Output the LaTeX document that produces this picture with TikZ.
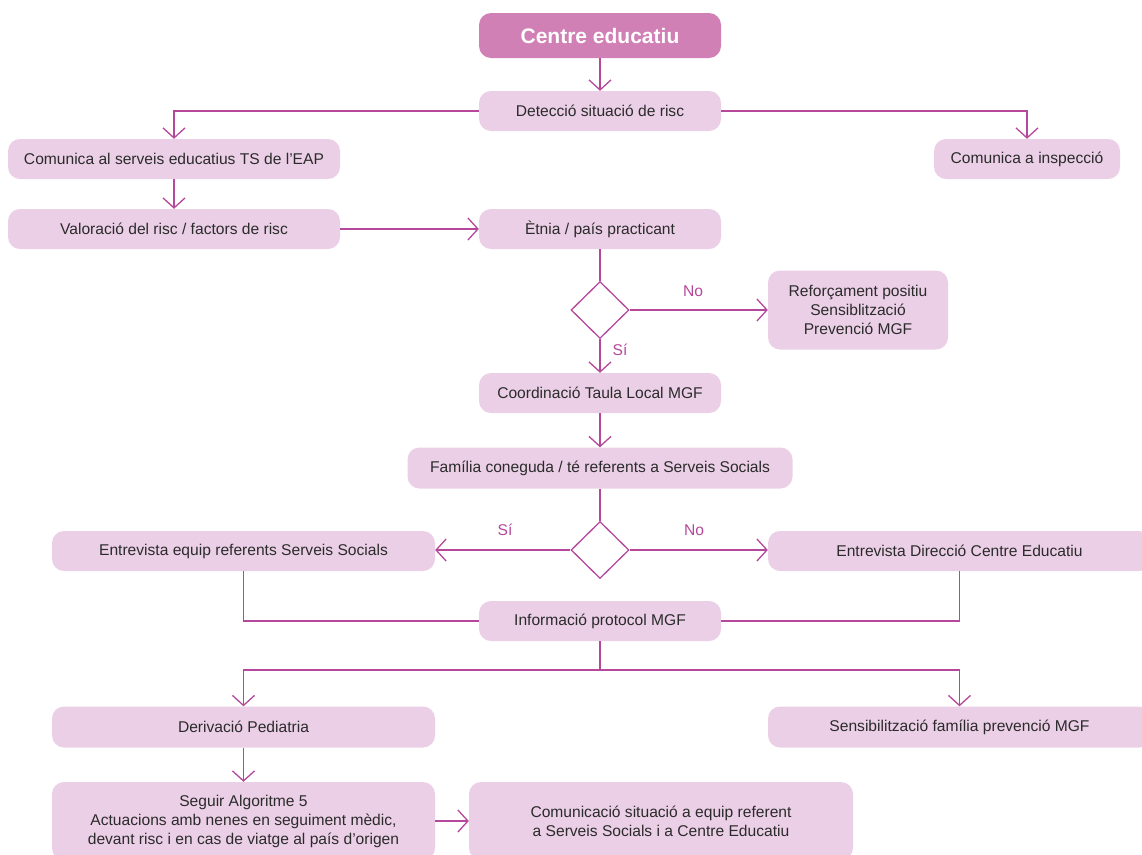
\documentclass[tikz,border=0pt]{standalone}
\usepackage{fontspec}
\setmainfont{Liberation Sans}
\usetikzlibrary{arrows.meta,shapes.geometric}
\definecolor{boxfill}{HTML}{EBCFE6}
\definecolor{headfill}{HTML}{D080B4}
\definecolor{linkcol}{HTML}{B5489A}
\definecolor{txt}{HTML}{2B2B2B}

\begin{document}
\begin{tikzpicture}[x=1pt,y=-1pt,
  box/.style={fill=boxfill, rounded corners=12pt, text=txt,
    font=\fontsize{15.6}{19}\selectfont, align=center, inner sep=0pt},
  head/.style={box, fill=headfill, text=white,
    font=\fontsize{21}{24}\selectfont\bfseries},
  choice/.style={diamond, draw=linkcol, line width=1.3pt,
    minimum width=58pt, minimum height=57pt, inner sep=0pt},
  link/.style={draw=linkcol, line width=1.3pt},
  arr/.style={link, -{Straight Barb[length=10pt,width=22pt]}},
  lbl/.style={text=linkcol, font=\fontsize{15.6}{19}\selectfont}]

\useasboundingbox (0,0) rectangle (1142,854);

% boxes
\node[head, minimum width=242pt, minimum height=45pt] (centre) at (600,35.5) {Centre educatiu};
\node[box, minimum width=242pt, minimum height=40pt] (detec) at (600,111) {Detecció situació de risc};
\node[box, minimum width=332pt, minimum height=40pt] (comser) at (174,159) {Comunica al serveis educatius TS de l’EAP};
\node[box, minimum width=186pt, minimum height=40pt] (insp) at (1027,159) {Comunica a inspecció};
\node[box, minimum width=332pt, minimum height=40pt] (valor) at (174,229) {Valoració del risc / factors de risc};
\node[box, minimum width=242pt, minimum height=40pt] (etnia) at (600,229) {Ètnia / país practicant};
\node[choice] (d1) at (600,310) {};
\node[box, minimum width=180pt, minimum height=79pt] (refor) at (858,310) {Reforçament positiu\\Sensiblització\\Prevenció MGF};
\node[box, minimum width=242pt, minimum height=40pt] (coord) at (600,393) {Coordinació Taula Local MGF};
\node[box, minimum width=385pt, minimum height=41pt] (fam) at (600,468) {Família coneguda / té referents a Serveis Socials};
\node[choice] (d2) at (600,550) {};
\node[box, minimum width=383pt, minimum height=40pt] (entrSS) at (243.5,551) {Entrevista equip referents Serveis Socials};
\node[box, minimum width=383pt, minimum height=40pt] (entrDir) at (959.5,551) {Entrevista Direcció Centre Educatiu};
\node[box, minimum width=242pt, minimum height=40pt] (info) at (600,621) {Informació protocol MGF};
\node[box, minimum width=383pt, minimum height=41pt] (deriv) at (243.5,727) {Derivació Pediatria};
\node[box, minimum width=383pt, minimum height=41pt] (sens) at (959.5,727) {Sensibilització família prevenció MGF};
\node[box, minimum width=383pt, minimum height=78pt] (seguir) at (243.5,821) {Seguir Algoritme 5\\Actuacions amb nenes en seguiment mèdic,\\devant risc i en cas de viatge al país d’origen};
\node[box, minimum width=384pt, minimum height=78pt] (comun) at (661,821) {Comunicació situació a equip referent\\a Serveis Socials i a Centre Educatiu};

% connectors
\draw[arr] (centre) -- (detec);
\draw[arr] (detec.west) -| (comser.north);
\draw[arr] (detec.east) -| (insp.north);
\draw[arr] (comser) -- (valor);
\draw[arr] (valor) -- (etnia);
\draw[link] (etnia.south) -- (d1.north);
\draw[arr] (d1.east) -- (refor.west);
\draw[arr] (d1.south) -- (coord.north);
\draw[arr] (coord) -- (fam);
\draw[link] (fam.south) -- (d2.north);
\draw[arr] (d2.west) -- (d2.west -| entrSS.east);
\draw[arr] (d2.east) -- (d2.east -| entrDir.west);
\draw[link] (entrSS.south) |- (info.west);
\draw[link] (entrDir.south) |- (info.east);
\coordinate (split) at (600,670);
\draw[link] (info.south) -- (split);
\draw[arr] (split) -| (deriv.north);
\draw[arr] (split) -| (sens.north);
\draw[arr] (deriv) -- (seguir);
\draw[arr] (seguir) -- (comun);

% branch labels
\node[lbl] at (693,291) {No};
\node[lbl] at (620,350) {Sí};
\node[lbl] at (505,530) {Sí};
\node[lbl] at (694,530) {No};
\end{tikzpicture}
\end{document}
